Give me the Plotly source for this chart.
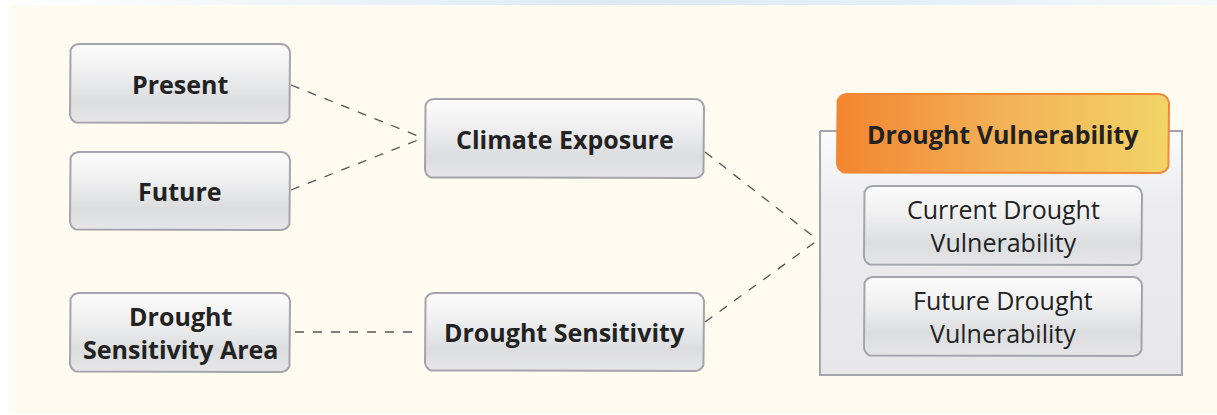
import numpy as np
import plotly.graph_objects as go

# ---- data (texts) ----
input_labels = ["Present", "Future", "Drought<br>Sensitivity Area"]
factor_labels = ["Climate Exposure", "Drought Sensitivity"]
result_title = "Drought Vulnerability"
result_labels = ["Current Drought<br>Vulnerability", "Future Drought<br>Vulnerability"]

# ---- layout geometry (pixels) ----
W, H = 1217, 415
input_boxes = [(70, 44, 290, 123), (70, 152, 290, 230), (70, 293, 290, 372)]
factor_boxes = [(425, 99, 704, 178), (425, 293, 704, 371)]
container = (820, 131, 1182, 375)
header_box = (837, 94, 1169, 173)
result_boxes = [(864, 186, 1142, 265), (864, 277, 1142, 356)]

links = [
    ((291, 85), (423, 138)),
    ((291, 190), (423, 138)),
    ((705, 152), (818, 240)),
    ((705, 322), (818, 240)),
    ((295, 332), (421, 332)),
]

fig = go.Figure()


def rrect(x0, y0, x1, y1, r):
    xs, ys = [], []
    corners = [(x1 - r, y0 + r, -90, 0), (x1 - r, y1 - r, 0, 90),
               (x0 + r, y1 - r, 90, 180), (x0 + r, y0 + r, 180, 270)]
    for cx, cy, a0, a1 in corners:
        t = np.radians(np.linspace(a0, a1, 10))
        xs += list(cx + r * np.cos(t))
        ys += list(cy + r * np.sin(t))
    xs.append(xs[0]); ys.append(ys[0])
    return xs, ys


def add_box(b, r, line_color, line_width, grad_type, cscale, start=None, stop=None):
    xs, ys = rrect(*b, r) if r > 0 else (
        [b[0], b[2], b[2], b[0], b[0]], [b[1], b[1], b[3], b[3], b[1]])
    fg = dict(type=grad_type, colorscale=cscale)
    if start is not None:
        fg["start"] = start
        fg["stop"] = stop
    fig.add_trace(go.Scatter(
        x=xs, y=ys, mode="lines", fill="toself",
        fillgradient=fg,
        line=dict(color=line_color, width=line_width),
        hoverinfo="skip", showlegend=False))


# background
add_box((9, 5, W, 414), 0, "rgba(0,0,0,0)", 0, "vertical",
        [[0, "#fffbf0"], [1, "#fffbf0"]])
add_box((0, 0, W, 5), 0, "rgba(0,0,0,0)", 0, "horizontal",
        [[0, "#ffffff"], [0.25, "#eef5fa"], [0.5, "#d9eaf5"], [0.75, "#e3f0f8"], [1, "#f4f9fc"]],
        0, W)

# connectors
for (p0, p1) in links:
    fig.add_trace(go.Scatter(
        x=[p0[0], p1[0]], y=[p0[1], p1[1]], mode="lines",
        line=dict(color="#555555", width=1.3, dash="dash"),
        hoverinfo="skip", showlegend=False))

box_scale = [[0, "#fbfbfc"], [0.35, "#f0f0f1"], [0.72, "#dcdddf"], [1, "#e6e6e8"]]


def add_grey_box(b):
    add_box(b, 9, "#a3a5ab", 2, "vertical", box_scale, b[1], b[3])


for b in input_boxes + factor_boxes:
    add_grey_box(b)

# container
add_box(container, 0, "#a3a5ab", 2, "vertical",
        [[0, "#fafbfb"], [0.3, "#ececee"], [1, "#e7e7e9"]], container[1], container[3])
for b in result_boxes:
    add_grey_box(b)
# header
add_box(header_box, 10, "#f2873a", 2, "horizontal",
        [[0, "#f28530"], [0.5, "#f3b256"], [1, "#f2d466"]], header_box[0], header_box[2])

# texts
def label(b, text, bold=True, size=25):
    fig.add_annotation(
        x=(b[0] + b[2]) / 2, y=(b[1] + b[3]) / 2, text=text, showarrow=False,
        xref="x", yref="y",
        font=dict(family="Open Sans", size=size, color="#222222",
                  weight="bold" if bold else "normal"))


for b, t in zip(input_boxes, input_labels):
    label(b, t)
for b, t in zip(factor_boxes, factor_labels):
    label(b, t)
label(header_box, result_title)
for b, t in zip(result_boxes, result_labels):
    label(b, t, bold=False, size=25)

fig.update_xaxes(range=[0, W], visible=False, fixedrange=True)
fig.update_yaxes(range=[H, 0], visible=False, fixedrange=True)
fig.update_layout(
    width=W, height=H, autosize=False,
    margin=dict(l=0, r=0, t=0, b=0),
    paper_bgcolor="#ffffff", plot_bgcolor="#ffffff",
    showlegend=False,
)
fig.write_html("out.html", config={"displayModeBar": False},
               post_script="document.body.style.margin='0';")
